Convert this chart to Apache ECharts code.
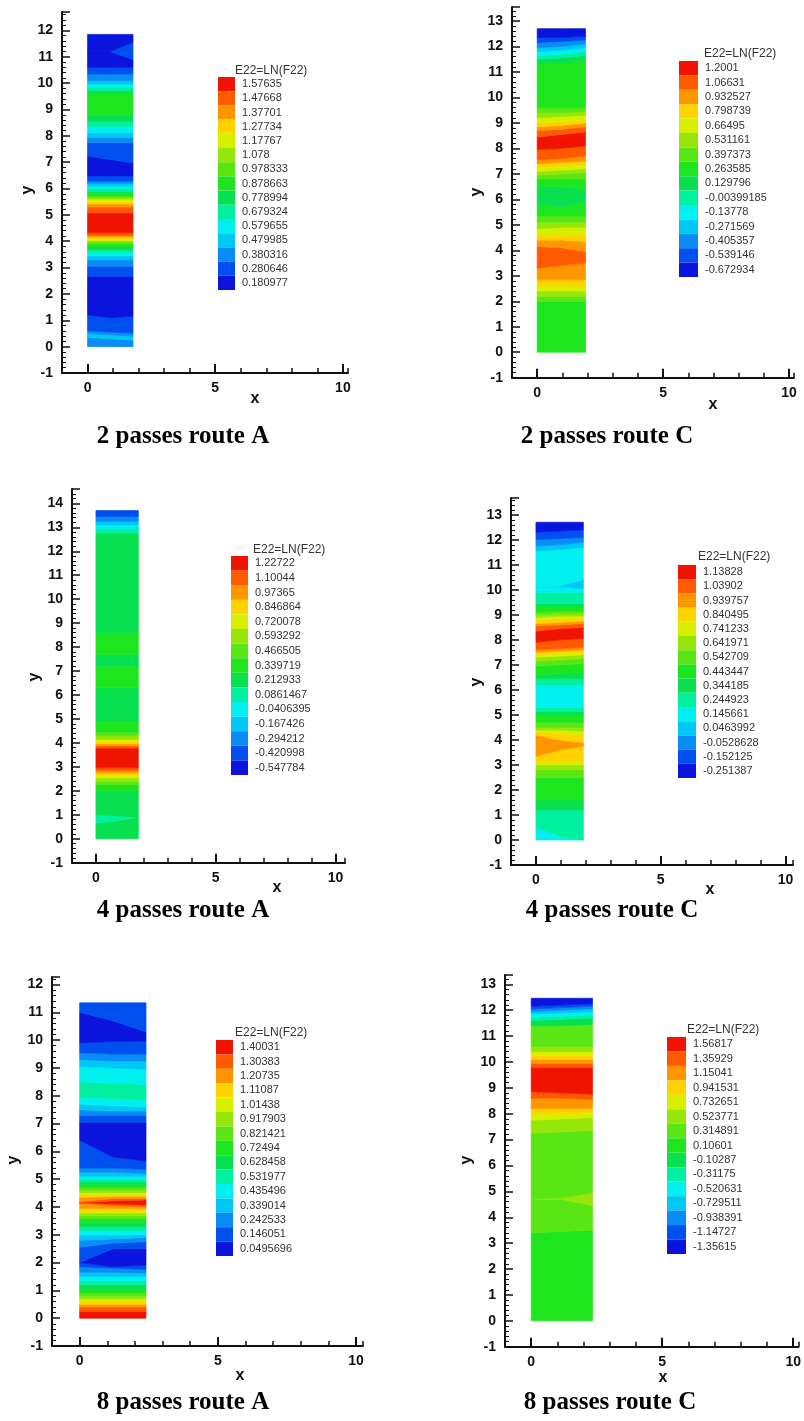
<!DOCTYPE html>
<html><head><meta charset="utf-8">
<script src="https://cdn.jsdelivr.net/npm/echarts@6/dist/echarts.min.js"></script>
<style>html,body{margin:0;padding:0;background:#fff}#c{width:804px;height:1421px}</style>
</head><body><div id="c"></div>
<script>
// ---------------- DATA ----------------
const captions = ['2 passes route A','2 passes route C','4 passes route A','4 passes route C','8 passes route A','8 passes route C'];
const legendTitle = 'E22=LN(F22)';
// strip extents (x width, y top)
const stripWidth = [1.78, 1.92, 1.77, 1.90, 2.40, 2.34];
const stripTop   = [11.85, 12.70, 13.70, 12.70, 11.34, 12.46];
// axis extents
const xMax = [10.2, 10.2, 10.4, 10.3, 10.25, 10.2];
const yMax = [12.7, 13.55, 14.6, 13.67, 12.27, 13.36];
const xTickLabels = [0, 5, 10];
// legend level labels (top -> bottom)
const levels1 = ['1.57635','1.47668','1.37701','1.27734','1.17767','1.078','0.978333','0.878663','0.778994','0.679324','0.579655','0.479985','0.380316','0.280646','0.180977'];
const levels2 = ['1.2001','1.06631','0.932527','0.798739','0.66495','0.531161','0.397373','0.263585','0.129796','-0.00399185','-0.13778','-0.271569','-0.405357','-0.539146','-0.672934'];
const levels3 = ['1.22722','1.10044','0.97365','0.846864','0.720078','0.593292','0.466505','0.339719','0.212933','0.0861467','-0.0406395','-0.167426','-0.294212','-0.420998','-0.547784'];
const levels4 = ['1.13828','1.03902','0.939757','0.840495','0.741233','0.641971','0.542709','0.443447','0.344185','0.244923','0.145661','0.0463992','-0.0528628','-0.152125','-0.251387'];
const levels5 = ['1.40031','1.30383','1.20735','1.11087','1.01438','0.917903','0.821421','0.72494','0.628458','0.531977','0.435496','0.339014','0.242533','0.146051','0.0495696'];
const levels6 = ['1.56817','1.35929','1.15041','0.941531','0.732651','0.523771','0.314891','0.10601','-0.10287','-0.31175','-0.520631','-0.729511','-0.938391','-1.14727','-1.35615'];
// contour bands, bottom -> top: [lower boundary y at left edge, centre, right edge, E22 value]
const bands1 = [
[0,0,0,.38],[.35,.3,.25,.48],[.5,.45,.4,.38],[.6,.55,.52,.28],[1.2,1.1,1.15,.18],[2.67,2.67,2.67,.28],[3.05,3.05,3.05,.38],
[3.3,3.3,3.3,.48],[3.45,3.45,3.45,.58],[3.56,3.56,3.56,.68],[3.68,3.68,3.68,.78],[3.8,3.8,3.8,.88],[3.9,3.9,3.9,.98],
[3.97,3.97,3.97,1.08],[4.03,4.03,4.03,1.18],[4.1,4.1,4.1,1.28],[4.16,4.16,4.16,1.38],[4.22,4.22,4.22,1.48],[4.32,4.32,4.32,1.58],
[5.08,5.08,5.08,1.48],[5.3,5.3,5.3,1.38],[5.42,5.42,5.42,1.28],[5.5,5.5,5.5,1.18],[5.59,5.59,5.59,1.08],[5.66,5.66,5.66,.98],
[5.72,5.72,5.72,.88],[5.8,5.8,5.8,.78],[5.9,5.9,5.9,.68],[6.0,6.0,6.0,.58],[6.1,6.1,6.1,.48],[6.2,6.2,6.2,.38],[6.29,6.29,6.29,.28],
[6.48,6.48,6.48,.18],[7.24,7.1,6.98,.28],[7.74,7.74,7.74,.38],[7.95,7.95,7.95,.48],[8.12,8.12,8.12,.58],[8.35,8.35,8.35,.68],
[8.55,8.55,8.55,.78],[8.82,8.82,8.82,.88],[9.6,9.6,9.6,.78],[9.72,9.72,9.72,.68],[9.85,9.85,9.85,.58],[9.97,9.97,9.97,.48],
[10.1,10.1,10.1,.38],[10.35,10.35,10.35,.28],[10.6,10.6,10.6,.18],[11.2,11.2,10.9,.28],[11.2,11.2,11.55,.18]];
const bands2 = [
[0,0,0,.26],[2.0,2.0,2.0,.40],[2.19,2.19,2.19,.53],[2.4,2.4,2.4,.66],[2.6,2.6,2.6,.80],[2.85,2.85,2.85,.93],[3.3,3.4,3.5,1.07],
[4.15,4.1,3.95,.93],[4.4,4.4,4.35,.80],[4.6,4.6,4.6,.66],[4.85,4.9,4.9,.53],[5.1,5.1,5.1,.40],[5.35,5.35,5.35,.26],[5.8,5.7,5.9,.13],
[6.5,6.5,6.4,.26],[6.8,6.8,6.8,.40],[6.95,7.0,7.05,.53],[7.1,7.15,7.2,.66],[7.25,7.3,7.35,.80],[7.4,7.45,7.5,.93],[7.55,7.6,7.7,1.07],
[7.95,8.0,8.1,1.20],[8.45,8.55,8.65,1.07],[8.7,8.75,8.85,.93],[8.85,8.9,9.0,.80],[9.0,9.05,9.1,.66],[9.2,9.25,9.3,.53],[9.4,9.4,9.45,.40],
[9.6,9.6,9.6,.26],[11.3,11.35,11.45,.13],[11.5,11.55,11.65,0],[11.65,11.7,11.8,-.14],[11.8,11.85,11.95,-.27],[11.95,12.0,12.1,-.41],
[12.15,12.2,12.25,-.54],[12.35,12.35,12.4,-.67]];
const bands3 = [
[0,0,0,.21],[.65,.75,.9,.09],[1.0,.95,.9,.21],[1.98,1.98,1.98,.34],[2.26,2.26,2.26,.47],[2.4,2.4,2.4,.59],[2.54,2.54,2.54,.72],
[2.65,2.65,2.65,.85],[2.75,2.75,2.75,.97],[2.85,2.85,2.85,1.10],[2.96,2.96,2.96,1.23],[3.79,3.79,3.79,1.10],[3.88,3.88,3.88,.97],
[3.96,3.96,3.96,.85],[4.05,4.05,4.05,.72],[4.15,4.15,4.15,.59],[4.3,4.3,4.3,.47],[4.45,4.45,4.45,.34],[4.9,4.9,4.9,.21],
[6.3,6.3,6.3,.34],[7.2,7.2,7.2,.21],[7.7,7.7,7.7,.34],[8.6,8.6,8.6,.21],[12.75,12.75,12.75,.09],[12.95,12.95,12.95,-.04],
[13.1,13.1,13.1,-.17],[13.25,13.25,13.25,-.29],[13.45,13.45,13.45,-.42]];
const bands4 = [
[0,0,0,.15],[.5,.15,0,.24],[1.2,1.2,1.2,.34],[1.6,1.6,1.6,.44],[2.5,2.5,2.5,.54],[2.8,2.8,2.8,.64],[3.0,3.0,3.0,.74],
[3.15,3.15,3.15,.84],[3.35,3.6,3.75,.94],[4.2,4.0,3.9,.84],[4.3,4.25,4.2,.74],[4.4,4.4,4.35,.64],[4.5,4.5,4.5,.54],[4.7,4.7,4.7,.44],
[5.0,5.0,5.0,.34],[5.15,5.15,5.15,.24],[5.3,5.3,5.3,.15],[6.2,6.2,6.2,.24],[6.45,6.45,6.45,.34],[6.6,6.65,6.7,.44],[6.95,7.0,7.05,.54],
[7.15,7.2,7.25,.64],[7.3,7.35,7.4,.74],[7.4,7.45,7.5,.84],[7.5,7.55,7.6,.94],[7.6,7.65,7.7,1.04],[7.9,8.0,8.05,1.14],[8.35,8.45,8.5,1.04],
[8.55,8.6,8.65,.94],[8.65,8.7,8.75,.84],[8.8,8.85,8.85,.74],[8.9,8.95,8.95,.64],[9.0,9.05,9.05,.54],[9.1,9.15,9.15,.44],[9.3,9.3,9.3,.34],
[9.45,9.45,9.45,.24],[9.9,9.9,9.9,.15],[10.1,10.1,10.05,.05],[10.1,10.15,10.4,.15],[11.55,11.6,11.7,.05],[11.75,11.8,11.9,-.05],
[12.0,12.05,12.1,-.15],[12.3,12.35,12.4,-.25]];
const bands5 = [
[0,0,0,1.40],[.25,.25,.25,1.30],[.4,.4,.4,1.21],[.5,.5,.5,1.11],[.6,.6,.6,1.01],[.7,.7,.7,.92],[.8,.8,.8,.82],[.9,.9,.9,.72],
[1.05,1.05,1.05,.63],[1.2,1.2,1.2,.53],[1.35,1.35,1.35,.44],[1.5,1.5,1.5,.34],[1.65,1.65,1.62,.24],[1.85,1.8,1.75,.15],
[2.0,1.85,1.9,.05],[2.0,2.5,2.5,.15],[2.55,2.7,2.75,.24],[2.8,2.85,2.9,.34],[3.0,3.0,3.0,.44],[3.15,3.15,3.15,.53],[3.3,3.3,3.3,.63],
[3.45,3.45,3.45,.72],[3.58,3.58,3.58,.82],[3.68,3.68,3.68,.92],[3.78,3.78,3.78,1.01],[3.87,3.87,3.87,1.11],[3.95,3.95,3.95,1.21],
[4.15,4.05,4.02,1.30],[4.15,4.12,4.08,1.40],[4.15,4.22,4.25,1.30],[4.2,4.3,4.3,1.21],[4.35,4.38,4.38,1.11],[4.45,4.45,4.45,1.01],
[4.52,4.52,4.52,.92],[4.6,4.6,4.6,.82],[4.7,4.7,4.7,.72],[4.8,4.8,4.8,.63],[4.9,4.9,4.9,.53],[5.0,5.0,5.0,.44],[5.1,5.1,5.1,.34],
[5.25,5.25,5.2,.24],[5.4,5.4,5.35,.15],[6.4,5.8,5.65,.05],[7.05,7.05,7.05,.15],[7.3,7.3,7.3,.24],[7.5,7.45,7.45,.34],[7.7,7.65,7.6,.44],
[7.95,7.9,7.85,.53],[8.5,8.45,8.4,.44],[9.05,9.0,8.95,.34],[9.3,9.25,9.25,.24],[9.55,9.5,9.5,.15],[9.9,9.95,9.96,.05],[11.0,10.7,10.3,.15]];
const bands6 = [
[0,0,0,.11],[3.4,3.45,3.5,.31],[4.7,4.7,4.45,.52],[4.7,4.75,4.95,.31],[7.25,7.3,7.35,.52],[7.75,7.8,7.85,.73],[8.0,8.0,8.05,.94],
[8.2,8.2,8.2,1.15],[8.6,8.6,8.55,1.36],[8.85,8.8,8.75,1.57],[9.8,9.8,9.8,1.36],[9.95,9.95,9.95,1.15],[10.1,10.1,10.1,.94],
[10.25,10.25,10.25,.73],[10.4,10.4,10.4,.52],[10.6,10.6,10.6,.31],[11.4,11.4,11.45,-.10],[11.6,11.65,11.7,-.31],[11.72,11.77,11.82,-.52],
[11.85,11.9,11.95,-.73],[11.95,12.0,12.05,-.94],[12.05,12.1,12.15,-1.15],[12.15,12.2,12.25,-1.36]];

// ---------------- LAYOUT / STYLE ----------------
const bandSets = [bands1, bands2, bands3, bands4, bands5, bands6];
const levelSets = [levels1, levels2, levels3, levels4, levels5, levels6];
const palette = ['#0a14dc','#0050f0','#0a8cf5','#00c8f5','#00f0f0','#00f0a0','#08e050','#1ee61e','#5ae614','#96e60a','#d7f000','#ffd200','#ff9600','#ff5a00','#f01400'];
const grids = [
  {left:62, top:12, width:286, height:361},
  {left:512, top:7, width:282, height:370.7},
  {left:72, top:489, width:273, height:373.7},
  {left:511, top:498, width:282, height:367},
  {left:52, top:977, width:311, height:369},
  {left:505, top:975, width:295, height:371.7}
];
const legendBox = [
  {x:218, y:77, w:17, h:213, tx:235, ty:72},
  {x:679, y:61, w:19, h:216, tx:704, ty:55},
  {x:231, y:556, w:17, h:219, tx:253, ty:551},
  {x:678, y:565, w:18, h:213, tx:698, ty:558},
  {x:216, y:1040, w:17, h:216, tx:235, ty:1034},
  {x:667, y:1037, w:19, h:217, tx:687, ty:1031}
];
const capPos = [[183,437],[607,437],[183,911],[612,911],[183,1403],[610,1403]];
const xNamePos = [[255,399],[713,405],[277,888],[710,890],[240,1376],[663,1378]];
const yNamePos = [[28,190],[477,192],[35,677],[477,682],[14,1160],[467,1160]];

const AX = '#111';
const sans = 'Liberation Sans, Arial, sans-serif';
const xAxes = [], yAxes = [], series = [], visualMaps = [], graphics = [];

bandSets.forEach((bands, i) => {
  const w = stripWidth[i], top = stripTop[i];
  const xs = [0, w / 2, w];
  const data = bands.map((b, k) => {
    const n = k < bands.length - 1 ? bands[k + 1] : [top, top, top];
    return [b[0], b[1], b[2], n[0], n[1], n[2], b[3]];
  });
  xAxes.push({
    gridIndex: i, type: 'value', position: 'bottom', min: -1, max: xMax[i], interval: 1,
    axisLine: {onZero: false, lineStyle: {color: AX, width: 2}},
    axisTick: {inside: true, interval: 0, length: 5, lineStyle: {color: AX, width: 1.5}},
    axisLabel: {interval: 0, formatter: v => xTickLabels.includes(v) ? String(v) : '', color: AX, fontWeight: 'bold', fontSize: 14, fontFamily: sans, margin: 8},
    splitLine: {show: false}
  });
  xAxes.push({
    gridIndex: i, type: 'value', position: 'bottom', min: -1, max: xMax[i],
    axisLine: {show: false, onZero: false},
    axisTick: {inside: true, length: 9, customValues: xTickLabels, lineStyle: {color: AX, width: 2}},
    axisLabel: {show: false}, splitLine: {show: false}
  });
  yAxes.push({
    gridIndex: i, type: 'value', min: -1, max: yMax[i], interval: 1,
    axisLine: {onZero: false, lineStyle: {color: AX, width: 2}},
    axisTick: {inside: true, length: 8, lineStyle: {color: AX, width: 1.5}},
    minorTick: {show: true, splitNumber: 5, length: 4, lineStyle: {color: AX, width: 1}},
    axisLabel: {formatter: v => Number.isInteger(v) ? String(v) : '', color: AX, fontWeight: 'bold', fontSize: 14, fontFamily: sans, margin: 9},
    splitLine: {show: false}
  });
  series.push({
    type: 'custom', xAxisIndex: 2 * i, yAxisIndex: i, clip: true, silent: true,
    renderItem: (params, api) => {
      const pts = [
        api.coord([xs[0], api.value(0)]), api.coord([xs[1], api.value(1)]), api.coord([xs[2], api.value(2)]),
        api.coord([xs[2], api.value(5)]), api.coord([xs[1], api.value(4)]), api.coord([xs[0], api.value(3)])
      ];
      const col = api.visual('color');
      return {type: 'polygon', shape: {points: pts}, style: {fill: col, stroke: col, lineWidth: 0.7}};
    },
    data: data
  });
  const labs = levelSets[i];
  const vals = labs.map(parseFloat);
  const asc = vals.map((v, j) => ({v: v, l: labs[j]})).reverse();
  const pieces = asc.map((o, j) => {
    const p = {color: palette[j], label: o.l};
    if (j > 0) p.gte = (asc[j - 1].v + o.v) / 2;
    if (j < asc.length - 1) p.lt = (o.v + asc[j + 1].v) / 2;
    return p;
  });
  const lb = legendBox[i];
  visualMaps.push({
    type: 'piecewise', seriesIndex: i, dimension: 6, pieces: pieces,
    orient: 'vertical', align: 'left', left: lb.x, top: lb.y, padding: 0, itemGap: 0,
    itemWidth: lb.w, itemHeight: lb.h / 15, itemSymbol: 'rect', textGap: 7,
    selectedMode: false, hoverLink: false, showLabel: true,
    textStyle: {color: '#333', fontSize: 11, fontFamily: sans}
  });
  graphics.push({type: 'text', left: lb.tx, top: lb.ty - 7, silent: true,
    style: {text: legendTitle, fill: '#333', font: '12px ' + sans}});
  graphics.push({type: 'text', x: capPos[i][0], y: capPos[i][1], silent: true,
    style: {text: captions[i], fill: '#000', font: 'bold 25px Liberation Serif, Times New Roman, serif', align: 'center', verticalAlign: 'middle'}});
  graphics.push({type: 'text', x: xNamePos[i][0], y: xNamePos[i][1], silent: true,
    style: {text: 'x', fill: AX, font: 'bold 16px ' + sans, align: 'center', verticalAlign: 'middle'}});
  graphics.push({type: 'text', x: yNamePos[i][0], y: yNamePos[i][1], rotation: Math.PI / 2, silent: true,
    style: {text: 'y', fill: AX, font: 'bold 16px ' + sans, align: 'center', verticalAlign: 'middle'}});
});

const chart = echarts.init(document.getElementById('c'), null, {renderer: 'canvas'});
chart.setOption({
  backgroundColor: '#fff', animation: false,
  grid: grids.map(g => Object.assign({containLabel: false}, g)),
  xAxis: xAxes, yAxis: yAxes, series: series, visualMap: visualMaps, graphic: graphics
});
</script></body></html>
